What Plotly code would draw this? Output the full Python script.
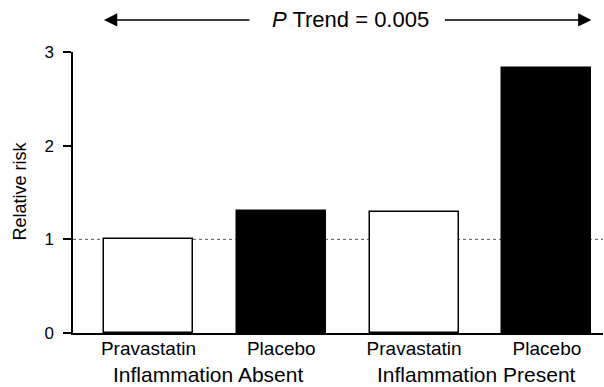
import plotly.graph_objects as go

# Relative risk by treatment arm and inflammation status
arms = ["Pravastatin", "Placebo", "Pravastatin", "Placebo"]
relative_risk = [1.00, 1.30, 1.29, 2.83]
bar_fill = ["white", "black", "white", "black"]
groups = ["Inflammation Absent", "Inflammation Present"]
group_pos = [0.45, 2.47]
trend_label = "<i>P</i> Trend = 0.005"
y_ticks = [0, 1, 2, 3]

FONT = "Liberation Sans, Arial, sans-serif"
BAR_W = 0.67
X_RANGE = [-0.568, 3.422]


def to_paper(xv):
    """Convert an x data value into a paper fraction."""
    return (xv - X_RANGE[0]) / (X_RANGE[1] - X_RANGE[0])


fig = go.Figure()
fig.add_trace(go.Bar(
    x=list(range(len(arms))),
    y=relative_risk,
    width=BAR_W,
    marker=dict(color=bar_fill, line=dict(color="black", width=1.5)),
    showlegend=False,
))

# dotted reference line at RR = 1
fig.add_shape(type="line", xref="paper", yref="y", x0=0, x1=1, y0=1, y1=1,
              line=dict(color="#555555", width=1, dash="dot"), layer="below")

# trend arrows spanning all four bars
arrow_y = 1.114
left_tip = to_paper(-BAR_W / 2)
right_tip = to_paper(len(arms) - 1 + BAR_W / 2)
for tip, tail_px in [(left_tip, 147), (right_tip, -148)]:
    fig.add_annotation(x=tip, y=arrow_y, xref="paper", yref="paper",
                       ax=tail_px, ay=0, axref="pixel", ayref="pixel",
                       text="", showarrow=True,
                       arrowhead=2, arrowsize=1.9, arrowwidth=1.4, arrowcolor="black")
fig.add_annotation(x=to_paper(1.524), y=arrow_y, xref="paper", yref="paper",
                   text=trend_label, showarrow=False,
                   font=dict(family=FONT, size=22, color="black"),
                   xanchor="center", yanchor="middle")

# group labels under the arm names
for label, pos in zip(groups, group_pos):
    fig.add_annotation(x=to_paper(pos), y=-0.148, xref="paper", yref="paper",
                       text=label, showarrow=False,
                       font=dict(family=FONT, size=21, color="black"),
                       xanchor="center", yanchor="middle")

fig.add_annotation(x=-0.1, y=1.51, xref="paper", yref="y", text="Relative risk",
                   textangle=-90, showarrow=False,
                   font=dict(family=FONT, size=18, color="black"),
                   xanchor="center", yanchor="middle")

fig.update_layout(
    width=604, height=387,
    margin=dict(l=73, r=1, t=52, b=54),
    paper_bgcolor="white", plot_bgcolor="white",
    font=dict(family=FONT, color="black"),
    bargap=0,
)
fig.update_xaxes(
    range=X_RANGE,
    tickmode="array", tickvals=list(range(len(arms))), ticktext=arms,
    tickfont=dict(family=FONT, size=19, color="black"),
    ticklabelstandoff=-3,
    showline=True, linecolor="black", linewidth=1.5,
    ticks="", showgrid=False, zeroline=False,
)
fig.update_yaxes(
    range=[0, 3],
    tickmode="array", tickvals=y_ticks,
    tickfont=dict(family=FONT, size=17, color="black"),
    showline=True, linecolor="black", linewidth=1.5,
    ticks="outside", ticklen=8, tickwidth=1.5, tickcolor="black",
    ticklabelstandoff=6,
    showgrid=False, zeroline=False,
)

fig.write_html("out.html")
